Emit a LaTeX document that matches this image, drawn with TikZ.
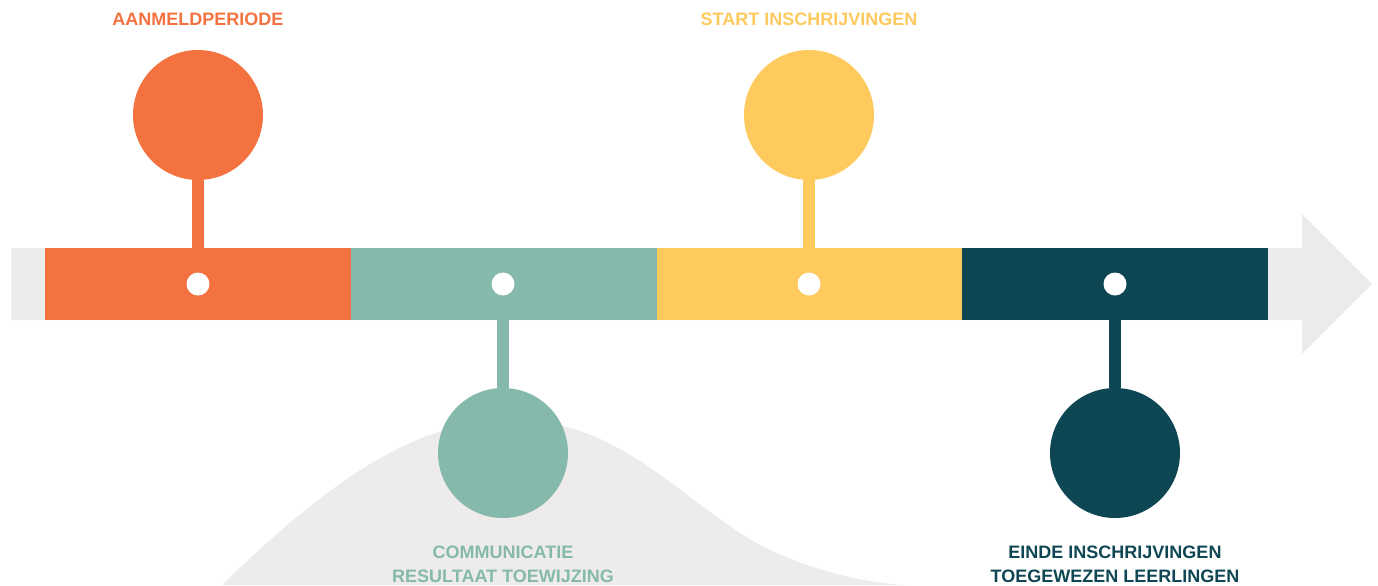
\documentclass[tikz,border=0pt]{standalone}
\usepackage{fontspec}
\setmainfont{Liberation Sans}
\usepackage{xcolor}
\usetikzlibrary{calc}
\definecolor{tl-orange}{RGB}{243, 114, 64}
\definecolor{tl-teal}{RGB}{133, 185, 172}
\definecolor{tl-yellow}{RGB}{254, 202, 94}
\definecolor{tl-dark}{RGB}{14, 71, 83}
\definecolor{tl-gray}{RGB}{238, 236, 234}

\begin{document}
\begin{tikzpicture}[x=0.5pt, y=-0.5pt,
    bol/.style={circle, fill=#1, minimum size=65pt, inner sep=0pt},
    stip/.style={circle, fill=white, minimum size=11.5pt, inner sep=0pt},
    steel/.style={line width=6pt, draw=#1},
    tekst/.style={font=\bfseries\fontsize{9}{12}\selectfont, text=#1, align=center, inner sep=0pt}]
  \useasboundingbox (0, 0) rectangle (1378, 585);

  % grijze pijl en heuvel
  \fill[tl-gray] (11, 248) -- (1302, 248) -- (1302, 214) -- (1372, 284)
    -- (1302, 354) -- (1302, 320) -- (11, 320) -- cycle;
  \fill[tl-gray] (222, 585) .. controls (350, 460) and (430, 420) .. (515, 420)
    .. controls (620, 420) and (680, 500) .. (760, 545)
    .. controls (810, 570) and (860, 582) .. (905, 585) -- cycle;

  \coordinate (p1) at (198, 284);
  \coordinate (p2) at (503, 284);
  \coordinate (p3) at (809, 284);
  \coordinate (p4) at (1115, 284);

  \node[bol=tl-orange] (aanmeld) at (198, 115) {};
  \node[bol=tl-teal] (communicatie) at (503, 453) {};
  \node[bol=tl-yellow] (start) at (809, 115) {};
  \node[bol=tl-dark] (einde) at (1115, 453) {};

  \draw[steel=tl-orange] (aanmeld) -- (p1);
  \draw[steel=tl-teal] (communicatie) -- (p2);
  \draw[steel=tl-yellow] (start) -- (p3);
  \draw[steel=tl-dark] (einde) -- (p4);

  % balk
  \foreach \kleur [count=\i] in {tl-orange, tl-teal, tl-yellow, tl-dark}
    \fill[\kleur] ({45 + (\i-1)*305.75}, 248) rectangle ({45 + \i*305.75}, 320);

  \foreach \i in {1,...,4}
    \node[stip] (stip\i) at (p\i) {};

  \node[tekst=tl-orange] (t-aanmeld) at (198, 19) {AANMELDPERIODE};
  \node[tekst=tl-yellow] (t-start) at (809, 19) {START INSCHRIJVINGEN};
  \node[tekst=tl-teal] (t-communicatie) at (503, 564) {COMMUNICATIE\\RESULTAAT TOEWIJZING};
  \node[tekst=tl-dark] (t-einde) at (1115, 564) {EINDE INSCHRIJVINGEN\\TOEGEWEZEN LEERLINGEN};
\end{tikzpicture}
\end{document}
